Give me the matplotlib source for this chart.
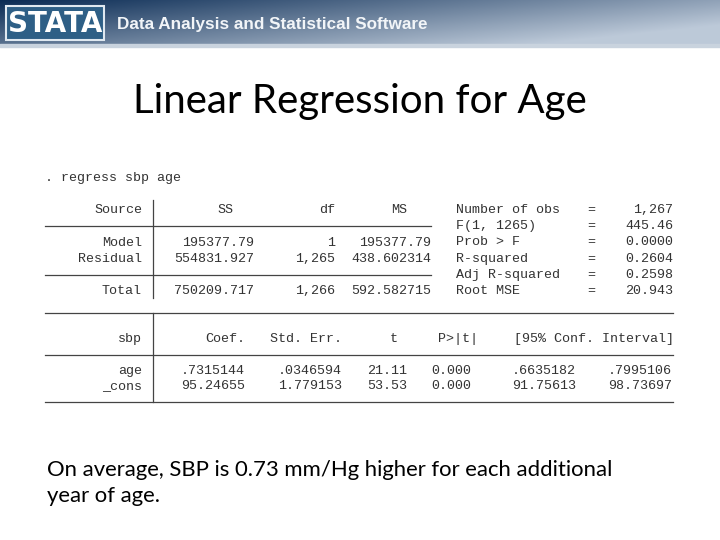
import numpy as np
import matplotlib.pyplot as plt

# ---- data ----
command = ". regress sbp age"
anova_header = ["Source", "SS", "df", "MS"]
anova_rows = [
    ["Model", "195377.79", "1", "195377.79"],
    ["Residual", "554831.927", "1,265", "438.602314"],
    ["Total", "750209.717", "1,266", "592.582715"],
]
stat_labels = ["Number of obs", "F(1, 1265)", "Prob > F", "R-squared", "Adj R-squared", "Root MSE"]
stat_values = ["1,267", "445.46", "0.0000", "0.2604", "0.2598", "20.943"]
coef_header = ["sbp", "Coef.", "Std. Err.", "t", "P>|t|", "[95% Conf. Interval]"]
coef_rows = [
    ["age", ".7315144", ".0346594", "21.11", "0.000", ".6635182", ".7995106"],
    ["_cons", "95.24655", "1.779153", "53.53", "0.000", "91.75613", "98.73697"],
]
title = "Linear Regression for Age"
caption = "On average, SBP is 0.73 mm/Hg higher for each additional\nyear of age."

fig = plt.figure(figsize=(7.2, 5.4), dpi=100)
ax = fig.add_axes([0, 0, 1, 1])
ax.set_xlim(0, 720)
ax.set_ylim(540, 0)
ax.axis("off")

# header band gradient
gx = np.linspace(0, 1, 300)
gy = np.linspace(0, 1, 40)
X, Y = np.meshgrid(gx, gy)
t = np.clip(0.75 * X + 0.45 * Y, 0, 1)
c0 = np.array([0.04, 0.17, 0.33])
c1 = np.array([0.74, 0.79, 0.85])
img = c0 + (c1 - c0) * t[..., None]
ax.imshow(img, extent=(0, 720, 46, 0), aspect="auto", zorder=0)
ax.fill_between([0, 720], 44, 47, color="#c9d3de", zorder=1)
ax.add_patch(plt.Rectangle((6, 6), 98, 34, facecolor="#2e5f86", edgecolor="#dfe8f0", lw=1.5, zorder=2))
ax.text(55, 24, "STATA", color="white", fontsize=20, fontweight="bold", ha="center", va="center",
        family="DejaVu Sans", zorder=3)
ax.text(117, 25, "Data Analysis and Statistical Software", color="#f2f5f8", fontsize=12.3,
        fontweight="bold", ha="left", va="center", family="Liberation Sans", zorder=3)

ax.text(360, 102, title, fontsize=29, ha="center", va="center", family="Lato", color="black")

mono = dict(family="Liberation Mono", fontsize=9.6, color="#333333", va="center")
lc = "#444444"

ax.text(45, 178, command, ha="left", **mono)

# anova table
ys = [243, 259, 291]
ax.text(142, 210, anova_header[0], ha="right", **mono)
ax.text(225, 210, anova_header[1], ha="center", **mono)
ax.text(335, 210, anova_header[2], ha="right", **mono)
ax.text(407, 210, anova_header[3], ha="right", **mono)
for y, row in zip(ys, anova_rows):
    ax.text(142, y, row[0], ha="right", **mono)
    ax.text(254, y, row[1], ha="right", **mono)
    ax.text(335, y, row[2], ha="right", **mono)
    ax.text(431, y, row[3], ha="right", **mono)
for y in [226, 275]:
    ax.plot([45, 431], [y, y], color=lc, lw=0.9)
ax.plot([153, 153], [200, 298], color=lc, lw=0.9)

for i, (lab, val) in enumerate(zip(stat_labels, stat_values)):
    y = 210 + i * 16.2
    ax.text(456, y, lab, ha="left", **mono)
    ax.text(591, y, "=", ha="center", **mono)
    ax.text(673, y, val, ha="right", **mono)

# coefficient table
ax.plot([45, 673], [313, 313], color=lc, lw=0.9)
ax.plot([45, 673], [355, 355], color=lc, lw=0.9)
ax.plot([45, 673], [402, 402], color=lc, lw=0.9)
ax.plot([153, 153], [313, 402], color=lc, lw=0.9)
hx = [(142, "right"), (245, "right"), (342, "right"), (398, "right"), (438, "left"), (514, "left")]
for (x, ha), s in zip(hx, coef_header):
    ax.text(x, 339, s, ha=ha, **mono)
rights = [142, 245, 342, 407, 471, 576, 672]
for y, row in zip([371, 386], coef_rows):
    for x, s in zip(rights, row):
        ax.text(x, y, s, ha="right", **mono)

ax.text(47, 483, caption, fontsize=15.9, ha="left", va="center", family="Lato",
        color="black", linespacing=1.42)

fig.savefig("out.png", dpi=100)
